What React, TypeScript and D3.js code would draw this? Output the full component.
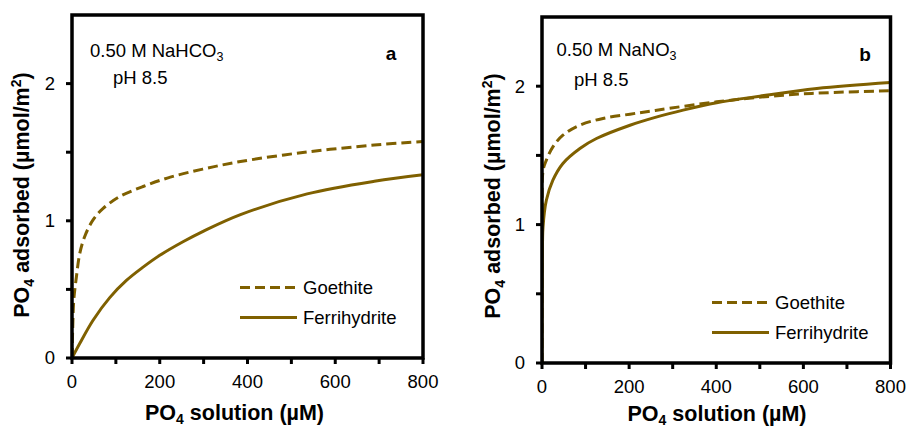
import React from 'react';
import * as d3 from 'd3';

// ---- Data ----
const xTickValues = [0, 100, 200, 300, 400, 500, 600, 700, 800];
const xTickLabeled = [0, 200, 400, 600, 800];
const yTickValues = [0, 0.5, 1, 1.5, 2];
const yTickLabeled = [0, 1, 2];

const seriesNames = ['Goethite', 'Ferrihydrite'];

// Panel a: 0.50 M NaHCO3
const goethiteA: [number, number][] = [
  [0, 0], [1.5, 0.2], [4, 0.42], [10, 0.59], [17.6, 0.76], [29, 0.886], [48, 1.007],
  [71, 1.09], [109, 1.177], [162, 1.25], [224, 1.318], [300, 1.378], [384, 1.432],
  [536, 1.502], [689, 1.552], [800, 1.578],
];
const ferrihydriteA: [number, number][] = [
  [0, 0], [17.6, 0.105], [48, 0.275], [86, 0.44], [124, 0.565], [162, 0.662],
  [201, 0.75], [254, 0.849], [300, 0.925], [384, 1.045], [536, 1.196], [689, 1.288],
  [800, 1.335],
];

// Panel b: 0.50 M NaNO3
const goethiteB: [number, number][] = [
  [0, 0], [0.5, 1.0], [2.5, 1.39], [10, 1.466], [25, 1.562], [48, 1.646], [87, 1.719],
  [140, 1.767], [202, 1.798], [260, 1.825], [401, 1.887], [554, 1.935], [669, 1.955],
  [800, 1.967],
];
const ferrihydriteB: [number, number][] = [
  [0, 0], [1, 0.74], [2.3, 0.98], [10, 1.176], [25, 1.321], [48, 1.442], [87, 1.55],
  [125, 1.622], [202, 1.718], [260, 1.775], [324, 1.827], [401, 1.88], [500, 1.928],
  [631, 1.984], [800, 2.027],
];

const COLOR = '#7F6000';
const FONT = '"Liberation Sans", Arial, Helvetica, sans-serif';

type PanelCfg = {
  left: number; right: number; top: number; bottom: number;
  salt: string; saltSub: string; letter: string;
  goethite: [number, number][]; ferri: [number, number][];
  saltX: number; saltY: number; phX: number; phY: number;
  letterX: number; letterY: number;
  legX: number; legY1: number; legY2: number;
  xTitleX: number; xTitleY: number; yTitleX: number; yTitleY: number;
};

const panels: PanelCfg[] = [
  {
    left: 72, right: 423, top: 15, bottom: 358,
    salt: '0.50 M NaHCO', saltSub: '3', letter: 'a',
    goethite: goethiteA, ferri: ferrihydriteA,
    saltX: 90, saltY: 56.5, phX: 113, phY: 83.5, letterX: 391, letterY: 59.5,
    legX: 240, legY1: 287.5, legY2: 317.5,
    xTitleX: 234.5, xTitleY: 420, yTitleX: 28.5, yTitleY: 195,
  },
  {
    left: 542, right: 890.5, top: 17, bottom: 363,
    salt: '0.50 M NaNO', saltSub: '3', letter: 'b',
    goethite: goethiteB, ferri: ferrihydriteB,
    saltX: 556.5, saltY: 55.5, phX: 574, phY: 85.5, letterX: 865, letterY: 61,
    legX: 712, legY1: 302.5, legY2: 332.5,
    xTitleX: 717, xTitleY: 420.5, yTitleX: 500, yTitleY: 196,
  },
];

function Panel({ p, idx }: { p: PanelCfg; idx: number }) {
  const x = d3.scaleLinear().domain([0, 800]).range([p.left, p.right]);
  const y = d3.scaleLinear().domain([0, 2.5]).range([p.bottom, p.top]);
  const line = d3
    .line<[number, number]>()
    .x((d) => x(d[0]))
    .y((d) => y(d[1]))
    .curve(d3.curveCatmullRom.alpha(0.5));
  const clipId = `clip-${idx}`;
  const tickFs = 18.5;
  const titleFs = 21.5;
  return (
    <g>
      <defs>
        <clipPath id={clipId}>
          <rect x={p.left} y={p.top} width={p.right - p.left} height={p.bottom - p.top} />
        </clipPath>
      </defs>
      <g clipPath={`url(#${clipId})`}>
        <path d={line(p.goethite) || ''} fill="none" stroke={COLOR} strokeWidth={3} strokeDasharray="10 5" />
        <path d={line(p.ferri) || ''} fill="none" stroke={COLOR} strokeWidth={3} />
      </g>
      {/* frame */}
      <rect x={p.left} y={p.top} width={p.right - p.left} height={p.bottom - p.top}
        fill="none" stroke="#000" strokeWidth={3.5} />
      {/* y ticks */}
      {yTickValues.map((v) => (
        <line key={`yt${v}`} x1={p.left - 6} x2={p.left} y1={y(v)} y2={y(v)} stroke="#000" strokeWidth={3} />
      ))}
      {yTickLabeled.map((v) => (
        <text key={`yl${v}`} x={p.left - 17} y={y(v)} dy="0.35em" textAnchor="end"
          fontSize={tickFs} fontFamily={FONT} fill="#000">{v}</text>
      ))}
      {/* x ticks */}
      {xTickValues.map((v) => (
        <line key={`xt${v}`} x1={x(v)} x2={x(v)} y1={p.bottom} y2={p.bottom + 6} stroke="#000" strokeWidth={3} />
      ))}
      {xTickLabeled.map((v) => (
        <text key={`xl${v}`} x={x(v)} y={p.bottom + 30} textAnchor="middle"
          fontSize={tickFs} fontFamily={FONT} fill="#000">{v}</text>
      ))}
      {/* annotations */}
      <text x={p.saltX} y={p.saltY} fontSize={tickFs} fontFamily={FONT} fill="#000">
        {p.salt}
        <tspan fontSize={12.5} dy={4}>{p.saltSub}</tspan>
      </text>
      <text x={p.phX} y={p.phY} fontSize={tickFs} fontFamily={FONT} fill="#000">pH 8.5</text>
      <text x={p.letterX} y={p.letterY} textAnchor="middle" fontSize={19} fontWeight="bold"
        fontFamily={FONT} fill="#000">{p.letter}</text>
      {/* legend */}
      <line x1={p.legX} x2={p.legX + 57} y1={p.legY1} y2={p.legY1} stroke={COLOR} strokeWidth={3} strokeDasharray="10 5" />
      <text x={p.legX + 63} y={p.legY1} dy="0.35em" fontSize={tickFs} fontFamily={FONT} fill="#000">{seriesNames[0]}</text>
      <line x1={p.legX} x2={p.legX + 57} y1={p.legY2} y2={p.legY2} stroke={COLOR} strokeWidth={3} />
      <text x={p.legX + 63} y={p.legY2} dy="0.35em" fontSize={tickFs} fontFamily={FONT} fill="#000">{seriesNames[1]}</text>
      {/* axis titles */}
      <text x={p.xTitleX} y={p.xTitleY} textAnchor="middle" fontSize={titleFs} fontWeight="bold"
        fontFamily={FONT} fill="#000">
        PO<tspan fontSize={14} dy={4}>4</tspan><tspan dy={-4}> solution (µM)</tspan>
      </text>
      <text transform={`translate(${p.yTitleX},${p.yTitleY}) rotate(-90)`} textAnchor="middle"
        fontSize={titleFs} fontWeight="bold" fontFamily={FONT} fill="#000">
        PO<tspan fontSize={14} dy={5}>4</tspan><tspan dy={-5}> adsorbed (µmol/m</tspan>
        <tspan fontSize={14} dy={-8}>2</tspan><tspan dy={8}>)</tspan>
      </text>
    </g>
  );
}

export default function App() {
  return (
    <svg width={907} height={427} viewBox="0 0 907 427"
      style={{ position: 'absolute', left: 0, top: 0, background: '#fff' }}>
      <rect x={0} y={0} width={907} height={427} fill="#fff" />
      {panels.map((p, i) => (
        <Panel key={i} p={p} idx={i} />
      ))}
    </svg>
  );
}
